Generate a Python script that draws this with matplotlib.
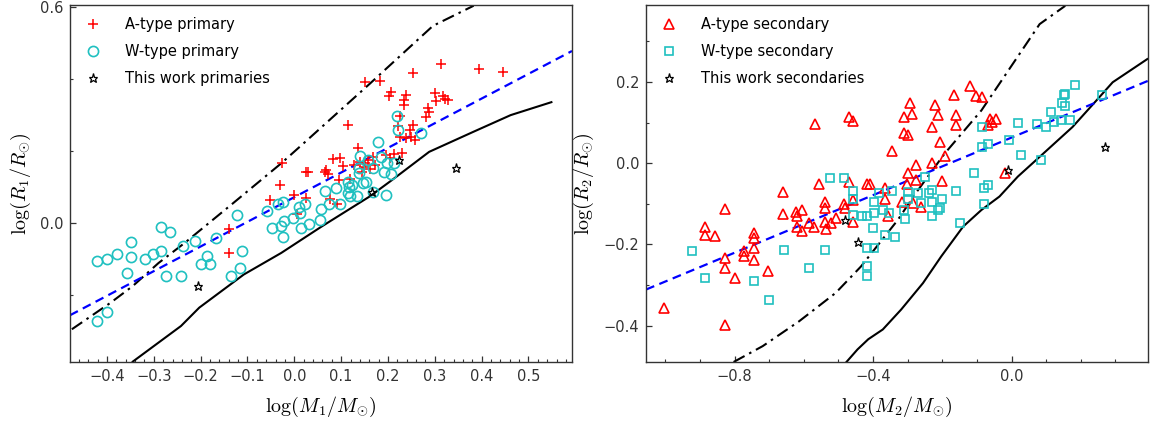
import matplotlib
matplotlib.use("Agg")
import matplotlib.pyplot as plt
from matplotlib.ticker import MultipleLocator
import numpy as np

plt.rcParams['font.family'] = ['DejaVu Sans']
plt.rcParams['mathtext.fontset'] = 'cm'

# ---------------- Left panel data (primaries) ----------------
a_prim_x = [-0.140, -0.140, -0.051, -0.031, -0.026, -0.001, 0.006, 0.024, 0.030, 0.026,
            0.065, 0.068, 0.072, 0.077, 0.082, 0.092, 0.098, 0.105, 0.096, 0.114,
            0.135, 0.128, 0.140, 0.148, 0.152, 0.158, 0.162, 0.167, 0.172, 0.151,
            0.182, 0.196, 0.205, 0.207, 0.203, 0.230, 0.239, 0.235, 0.235, 0.225,
            0.221, 0.253, 0.253, 0.246, 0.249, 0.238, 0.257, 0.225, 0.285, 0.287,
            0.282, 0.300, 0.303, 0.318, 0.321, 0.328, 0.314, 0.394, 0.446, 0.212,
            0.145, 0.118]
a_prim_y = [-0.018, -0.083, 0.062, 0.106, 0.167, 0.076, 0.025, 0.141, 0.141, 0.069,
            0.141, 0.146, 0.136, 0.067, 0.176, 0.052, 0.181, 0.158, 0.118, 0.272,
            0.207, 0.160, 0.170, 0.155, 0.165, 0.175, 0.150, 0.182, 0.160, 0.391,
            0.393, 0.188, 0.180, 0.363, 0.351, 0.193, 0.356, 0.342, 0.328, 0.297,
            0.269, 0.417, 0.272, 0.258, 0.239, 0.235, 0.230, 0.239, 0.319, 0.309,
            0.294, 0.361, 0.337, 0.351, 0.344, 0.342, 0.440, 0.428, 0.419, 0.190,
            0.140, 0.122]

w_prim_x = [-0.422, -0.400, -0.378, -0.349, -0.349, -0.357, -0.422, -0.400, -0.319, -0.301,
            -0.284, -0.284, -0.266, -0.274, -0.242, -0.237, -0.213, -0.199, -0.187, -0.180,
            -0.167, -0.135, -0.117, -0.112, -0.123, -0.059, -0.048, -0.034, -0.025, -0.028,
            -0.023, -0.025, -0.003, 0.013, 0.015, 0.009, 0.023, 0.032, 0.056, 0.055,
            0.066, 0.074, 0.088, 0.097, 0.114, 0.116, 0.114, 0.118, 0.123, 0.134,
            0.139, 0.139, 0.140, 0.146, 0.153, 0.157, 0.167, 0.169, 0.179, 0.185,
            0.191, 0.196, 0.197, 0.206, 0.213, 0.219, 0.221, 0.270]
w_prim_y = [-0.107, -0.100, -0.086, -0.053, -0.095, -0.141, -0.273, -0.248, -0.100, -0.086,
            -0.079, -0.013, -0.026, -0.147, -0.147, -0.064, -0.051, -0.116, -0.093, -0.114,
            -0.043, -0.147, -0.126, -0.079, 0.022, 0.032, -0.015, 0.053, 0.057, -0.010,
            0.004, -0.041, 0.013, 0.027, -0.015, 0.045, 0.053, -0.004, 0.039, 0.008,
            0.087, 0.053, 0.096, 0.053, 0.114, 0.098, 0.082, 0.073, 0.105, 0.073,
            0.137, 0.151, 0.185, 0.110, 0.114, 0.174, 0.085, 0.151, 0.223, 0.183,
            0.142, 0.077, 0.165, 0.135, 0.165, 0.296, 0.257, 0.248]

this_prim_x = [-0.205, 0.165, 0.224, 0.345]
this_prim_y = [-0.175, 0.084, 0.173, 0.153]

# model curves (left)
zams1_x = [-0.345, -0.242, -0.203, -0.108, -0.028, 0.059, 0.161, 0.209, 0.288, 0.383, 0.462, 0.549]
zams1_y = [-0.386, -0.287, -0.236, -0.144, -0.084, -0.010, 0.073, 0.119, 0.197, 0.253, 0.299, 0.335]
tams1_x = [-0.475, -0.392, -0.345, -0.290, -0.234, -0.131, -0.028, 0.027, 0.161, 0.296, 0.383]
tams1_y = [-0.296, -0.222, -0.176, -0.112, -0.056, 0.054, 0.165, 0.229, 0.386, 0.547, 0.603]
fit1 = (0.071, 0.685)   # intercept, slope

# ---------------- Right panel data (secondaries) ----------------
a_sec_x = [-1.003, -0.887, -0.887, -0.856, -0.827, -0.827, -0.827, -0.827, -0.798, -0.772,
           -0.772, -0.745, -0.745, -0.745, -0.745, -0.703, -0.659, -0.659, -0.622, -0.619,
           -0.604, -0.619, -0.604, -0.584, -0.570, -0.569, -0.555, -0.540, -0.538, -0.538,
           -0.537, -0.521, -0.508, -0.484, -0.482, -0.469, -0.458, -0.469, -0.458, -0.458,
           -0.419, -0.408, -0.366, -0.366, -0.358, -0.345, -0.317, -0.311, -0.311, -0.300,
           -0.293, -0.289, -0.300, -0.303, -0.284, -0.275, -0.277, -0.261, -0.229, -0.229,
           -0.222, -0.214, -0.206, -0.200, -0.193, -0.166, -0.161, -0.161, -0.121, -0.103,
           -0.085, -0.061, -0.045, -0.068, -0.056, -0.019]
a_sec_y = [-0.356, -0.156, -0.176, -0.180, -0.113, -0.233, -0.258, -0.397, -0.282, -0.217,
           -0.229, -0.172, -0.184, -0.209, -0.238, -0.266, -0.070, -0.125, -0.121, -0.130,
           -0.115, -0.156, -0.166, -0.146, -0.156, 0.097, -0.050, -0.096, -0.111, -0.144,
           -0.162, -0.146, -0.136, -0.100, -0.111, 0.113, 0.104, -0.046, -0.091, -0.144,
           -0.050, -0.050, -0.060, -0.089, -0.131, 0.030, -0.095, 0.113, 0.074, 0.069,
           0.148, 0.122, -0.023, -0.050, -0.099, -0.005, -0.042, -0.107, 0.089, 0.001,
           0.142, 0.119, 0.051, -0.044, 0.017, 0.167, 0.118, 0.095, 0.189, 0.165,
           0.162, 0.109, 0.109, 0.093, 0.101, -0.025]

w_sec_x = [-0.922, -0.887, -0.701, -0.745, -0.658, -0.585, -0.538, -0.524, -0.484, -0.458,
           -0.458, -0.458, -0.432, -0.419, -0.419, -0.419, -0.419, -0.398, -0.398, -0.398,
           -0.400, -0.382, -0.372, -0.366, -0.353, -0.345, -0.338, -0.311, -0.308, -0.300,
           -0.300, -0.271, -0.261, -0.250, -0.240, -0.229, -0.229, -0.229, -0.214, -0.206,
           -0.200, -0.161, -0.148, -0.108, -0.085, -0.085, -0.069, -0.080, -0.068, -0.080,
           -0.008, 0.018, 0.026, 0.073, 0.084, 0.100, 0.115, 0.123, 0.142, 0.146,
           0.153, 0.155, 0.168, 0.182, 0.260, 0.150]
w_sec_y = [-0.215, -0.282, -0.336, -0.291, -0.213, -0.258, -0.213, -0.036, -0.036, -0.068,
           -0.089, -0.127, -0.129, -0.129, -0.209, -0.254, -0.277, -0.209, -0.095, -0.123,
           -0.160, -0.074, -0.115, -0.176, -0.123, -0.068, -0.182, -0.115, -0.138, -0.070,
           -0.087, -0.073, -0.099, -0.033, -0.074, -0.066, -0.095, -0.130, -0.115, -0.111,
           -0.089, -0.069, -0.146, -0.025, 0.089, 0.040, 0.048, -0.060, -0.054, -0.100,
           0.056, 0.099, 0.020, 0.097, 0.009, 0.089, 0.126, 0.101, 0.105, 0.148,
           0.169, 0.140, 0.105, 0.193, 0.167, 0.168]

this_sec_x = [-0.482, -0.445, -0.011, 0.271]
this_sec_y = [-0.140, -0.194, -0.016, 0.040]

zams2_x = [-0.477, -0.445, -0.414, -0.372, -0.319, -0.256, -0.203, -0.140, -0.087, -0.035,
           0.018, 0.092, 0.176, 0.249, 0.292, 0.392]
zams2_y = [-0.489, -0.458, -0.433, -0.409, -0.360, -0.295, -0.229, -0.156, -0.115, -0.082,
           -0.033, 0.024, 0.089, 0.158, 0.199, 0.256]
tams2_x = [-0.803, -0.719, -0.614, -0.508, -0.435, -0.382, -0.329, -0.277, -0.235, -0.193,
           -0.140, -0.087, -0.003, 0.081, 0.155]
tams2_y = [-0.489, -0.450, -0.389, -0.319, -0.254, -0.197, -0.140, -0.074, -0.025, 0.024,
           0.077, 0.130, 0.236, 0.342, 0.387]
fit2 = (0.063, 0.354)

# ---------------- Figure ----------------
W, H = 1151, 423
fig = plt.figure(figsize=(W / 100, H / 100), dpi=100)

def rect(x0, y0, x1, y1):
    return [x0 / W, 1 - y1 / H, (x1 - x0) / W, (y1 - y0) / H]

ax1 = fig.add_axes(rect(70, 5, 572, 362))
ax2 = fig.add_axes(rect(646, 5, 1148, 362))

spine_col = '#333333'
tick_col = '#333333'
for ax in (ax1, ax2):
    for s in ax.spines.values():
        s.set_color(spine_col)
        s.set_linewidth(1.0)
    ax.tick_params(which='both', direction='in', top=False, right=False,
                   colors=spine_col, labelcolor=tick_col, labelsize=10.5)
    ax.tick_params(which='major', length=4, width=0.9, pad=5)
    ax.tick_params(which='minor', length=2.5, width=0.8)

ms_kw = dict(linestyle='none', markerfacecolor='none')

# Left
ax1.plot(tams1_x, tams1_y, color='k', lw=1.5, linestyle='-.', dashes=(6, 2.5, 1.2, 2.5))
ax1.plot(zams1_x, zams1_y, color='k', lw=1.5)
xf1 = np.array([-0.479, 0.593])
ax1.plot(xf1, fit1[0] + fit1[1] * xf1, color='#0000ff', lw=1.6, linestyle='--', dashes=(4, 2.5))
ax1.plot(a_prim_x, a_prim_y, marker='+', color='#ff0000', ms=7.5, mew=1.1, linestyle='none',
         label='A-type primary')
ax1.plot(w_prim_x, w_prim_y, marker='o', color='#1fc0c0', mec='#1fc0c0', ms=7.3, mew=1.2,
         label='W-type primary', **ms_kw)
ax1.plot(this_prim_x, this_prim_y, marker='*', color='k', mec='k', ms=6.5, mew=0.9,
         label='This work primaries', **ms_kw)
ax1.set_xlim(-0.479, 0.593)
ax1.set_ylim(-0.387, 0.605)
ax1.xaxis.set_major_locator(MultipleLocator(0.1))
ax1.xaxis.set_minor_locator(MultipleLocator(0.02))
ax1.yaxis.set_major_locator(MultipleLocator(0.6))
ax1.yaxis.set_minor_locator(MultipleLocator(0.2))
ax1.set_xlabel(r'$\log(M_1/M_{\odot})$', fontsize=14.5, labelpad=8)
ax1.set_ylabel(r'$\log(R_1/R_{\odot})$', fontsize=14.5, labelpad=5)
ax1.legend(loc='upper left', frameon=False, fontsize=10.5, handletextpad=1.4,
           labelspacing=0.85, borderaxespad=0.3, borderpad=0.5, handlelength=1.6,
           numpoints=1)

# Right
ax2.plot(tams2_x, tams2_y, color='k', lw=1.5, linestyle='-.', dashes=(6, 2.5, 1.2, 2.5))
ax2.plot(zams2_x, zams2_y, color='k', lw=1.5)
xf2 = np.array([-1.056, 0.394])
ax2.plot(xf2, fit2[0] + fit2[1] * xf2, color='#0000ff', lw=1.6, linestyle='--', dashes=(4, 2.5))
ax2.plot(a_sec_x, a_sec_y, marker='^', color='#ff0000', mec='#ff0000', ms=6.5, mew=1.2,
         label='A-type secondary', **ms_kw)
ax2.plot(w_sec_x, w_sec_y, marker='s', color='#1fc0c0', mec='#1fc0c0', ms=6.3, mew=1.2,
         label='W-type secondary', **ms_kw)
ax2.plot(this_sec_x, this_sec_y, marker='*', color='k', mec='k', ms=6.5, mew=0.9,
         label='This work secondaries', **ms_kw)
ax2.set_xlim(-1.056, 0.394)
ax2.set_ylim(-0.489, 0.389)
ax2.xaxis.set_major_locator(MultipleLocator(0.4))
ax2.xaxis.set_minor_locator(MultipleLocator(0.1))
ax2.yaxis.set_major_locator(MultipleLocator(0.2))
ax2.yaxis.set_minor_locator(MultipleLocator(0.1))
ax2.set_xlabel(r'$\log(M_2/M_{\odot})$', fontsize=14.5, labelpad=8)
ax2.set_ylabel(r'$\log(R_2/R_{\odot})$', fontsize=14.5, labelpad=5)
ax2.legend(loc='upper left', frameon=False, fontsize=10.5, handletextpad=1.4,
           labelspacing=0.85, borderaxespad=0.3, borderpad=0.5, handlelength=1.6,
           numpoints=1)

fig.savefig('out.png', dpi=100)
